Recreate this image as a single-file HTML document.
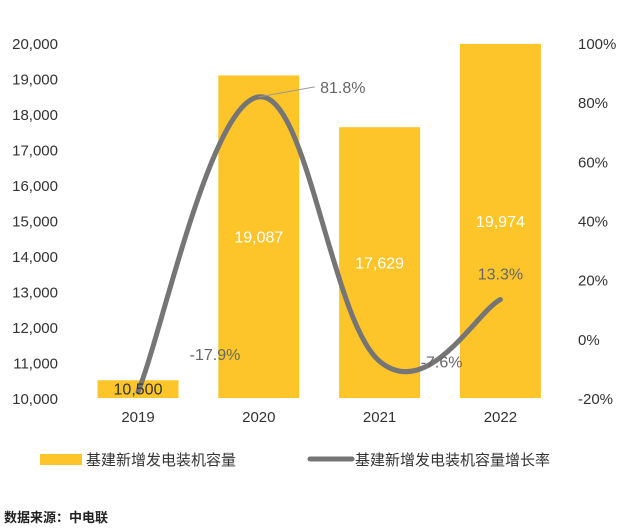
<!DOCTYPE html>
<html><head><meta charset="utf-8">
<style>
body{margin:0;background:#fff;}
svg{display:block;font-family:"Liberation Sans","Noto Sans CJK SC",sans-serif;}
</style></head>
<body>
<svg id="chart" width="634" height="532">
<g id="bars"></g><g id="axes"></g><g id="line"></g><g id="labels"></g>
<g>
<rect x="40" y="454" width="42" height="11" fill="#FDC52A"/>
<text x="86" y="465" font-size="15" fill="#333">基建新增发电装机容量</text>
<line x1="310" y1="459" x2="352" y2="459" stroke="#757575" stroke-width="5" stroke-linecap="round"/>
<text x="355" y="465" font-size="15" fill="#333">基建新增发电装机容量增长率</text>
</g>
<text x="4" y="522" font-size="13" font-weight="bold" fill="#222">数据来源：中电联</text>
</svg>
<script>
const categories=["2019","2020","2021","2022"];
const capacity=[10500,19087,17629,19974];
const capacityLabels=["10,500","19,087","17,629","19,974"];
const growth=[-17.9,81.8,-7.6,13.3];
const growthLabels=["-17.9%","81.8%","-7.6%","13.3%"];
const leftTicks=[10000,11000,12000,13000,14000,15000,16000,17000,18000,19000,20000];
const rightTicks=[-20,0,20,40,60,80,100];

const NS="http://www.w3.org/2000/svg";
const yTop=43,yBot=398;
const yL=v=>yBot-(v-10000)/10000*(yBot-yTop);
const yR=v=>yBot-(v+20)/120*(yBot-yTop);
const xC=i=>138+i*120.8;
const bw=81;
function mk(tag,attrs,parent,txt){const e=document.createElementNS(NS,tag);for(const k in attrs)e.setAttribute(k,attrs[k]);if(txt!==undefined)e.textContent=txt;document.getElementById(parent).appendChild(e);return e;}

leftTicks.forEach(t=>{
 const e=mk("text",{x:58,y:yL(t)+6,"text-anchor":"end","font-size":"15",fill:"#333"},"axes",t.toLocaleString("en-US"));
 
 
});
rightTicks.forEach(t=>{
 const e=mk("text",{x:578,y:yR(t)+6,"font-size":"15",fill:"#333"},"axes",t+"%");
 
 
});
categories.forEach((c,i)=>{
 const e=mk("text",{x:xC(i),y:422,"text-anchor":"middle","font-size":"15",fill:"#333"},"axes",c);
 
 
 const b=mk("rect",{x:xC(i)-bw/2,y:yL(capacity[i]),width:bw,height:yBot-yL(capacity[i]),fill:"#FDC52A"},"bars");
 
 
 const inside=capacity[i]>12000;
 const ly=inside?(yL(capacity[i])+yBot)/2+6:yL(capacity[i])+14;
 const l=mk("text",{x:xC(i),y:ly,"text-anchor":"middle","font-size":"16",fill:inside?"#fff":"#333"},"labels",capacityLabels[i]);
 
 
});
const pts=growth.map((g,i)=>[xC(i),yR(g)]);
let d="M"+pts[0][0]+","+pts[0][1];
const t=0.2;
for(let i=0;i<pts.length-1;i++){
 const p0=pts[Math.max(0,i-1)],p1=pts[i],p2=pts[i+1],p3=pts[Math.min(pts.length-1,i+2)];
 d+=` C${p1[0]+(p2[0]-p0[0])*t},${p1[1]+(p2[1]-p0[1])*t} ${p2[0]-(p3[0]-p1[0])*t},${p2[1]-(p3[1]-p1[1])*t} ${p2[0]},${p2[1]}`;
}
const ln=mk("path",{d:d,fill:"none",stroke:"#757575","stroke-width":"5","stroke-linecap":"round"},"line");


const dx=[77,84,62,0], dy=[-32,-4,6,-20];
growth.forEach((g,i)=>{
 const x=pts[i][0]+dx[i], y=pts[i][1]+dy[i];
 if(i===1){const lk=mk("line",{x1:pts[i][0],y1:pts[i][1],x2:x-28,y2:y-6,stroke:"#999","stroke-width":"1"},"labels");
  
  }
 const e=mk("text",{x:x,y:y,"text-anchor":"middle","font-size":"16",fill:"#666"},"labels",growthLabels[i]);
 
 
});
</script>
</body></html>
